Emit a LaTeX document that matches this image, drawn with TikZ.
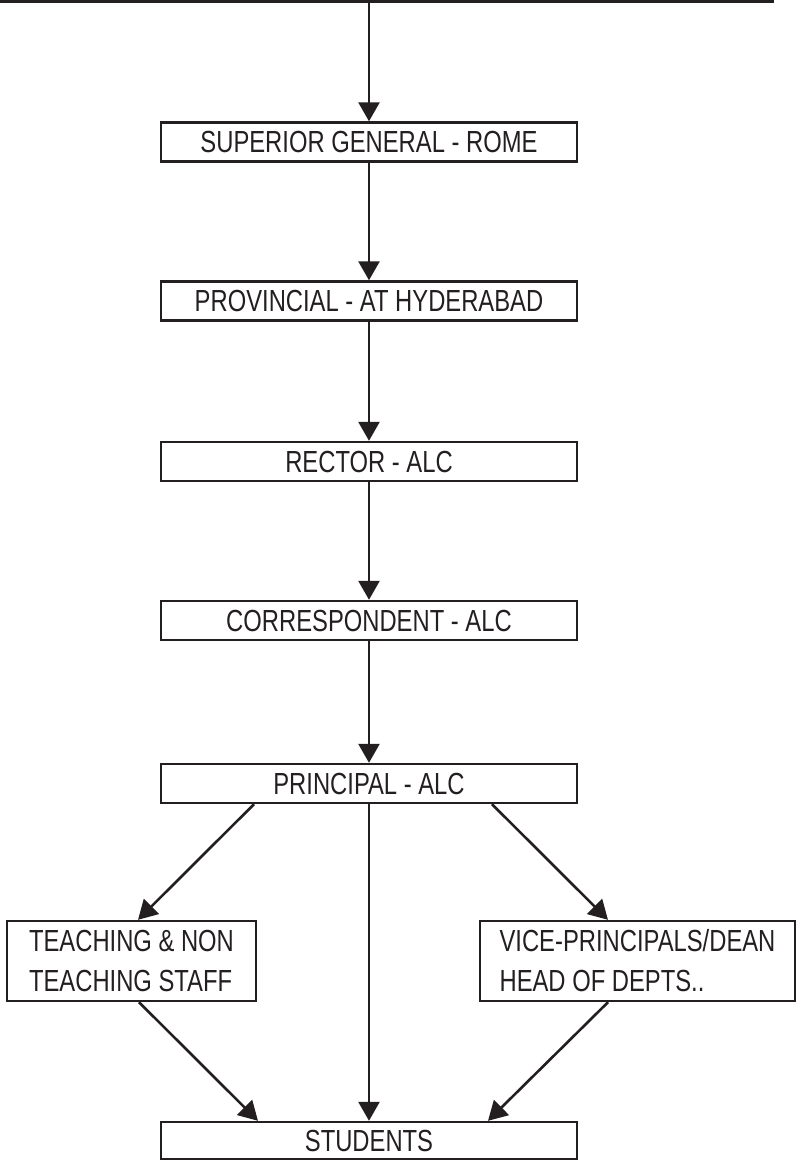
\documentclass[tikz,border=0pt]{standalone}
\usepackage{fontspec}
\setmainfont{Liberation Sans}[FakeStretch=0.78]
\usetikzlibrary{arrows.meta}
\definecolor{ink}{HTML}{231F20}

\begin{document}
\begin{tikzpicture}[x=1pt,y=1pt,yscale=-1,xscale=1,
  box/.style={draw=ink, line width=2.4pt, minimum width=416pt, minimum height=39pt, inner sep=0pt, text=ink, font=\fontsize{30.5}{40}\selectfont},
  sidebox/.style={box, minimum height=80pt, align=left},
  link/.style={draw=ink, line width=2.6pt, -{Triangle[width=21pt,length=19pt]}}]
\useasboundingbox (0,0) rectangle (797,1160);
\clip (0,0) rectangle (797,1160);

%Shape: box cut off at the top
\node [box, minimum width=800pt, minimum height=100pt] (top) at (373,-48.5) {};

% Text Node
\node [box] (sup) at (369,142) {SUPERIOR GENERAL - ROME};
% Text Node
\node [box] (prov) at (369,301) {PROVINCIAL - AT HYDERABAD};
% Text Node
\node [box] (rect) at (369,461.5) {RECTOR - ALC};
% Text Node
\node [box] (corr) at (369,620.5) {CORRESPONDENT - ALC};
% Text Node
\node [box] (prin) at (369,783.5) {PRINCIPAL - ALC};
% Text Node
\node [sidebox, minimum width=249pt] (staff) at (131.5,961) {TEACHING \& NON\\TEACHING STAFF};
% Text Node
\node [sidebox, minimum width=315pt] (heads) at (637.5,961) {VICE-PRINCIPALS/DEAN\\HEAD OF DEPTS..};
% Text Node
\node [box, minimum height=37pt] (stud) at (369,1140.5) {STUDENTS};

%Straight Lines
\draw [link] (sup.north |- top.south) -- (sup.north);
\draw [link] (sup) -- (prov);
\draw [link] (prov) -- (rect);
\draw [link] (rect) -- (corr);
\draw [link] (corr) -- (prin);
\draw [link] ([xshift=-115pt]prin.south) -- ([xshift=6.5pt]staff.north);
\draw [link] ([xshift=123pt]prin.south) -- ([xshift=-29.5pt]heads.north);
\draw [link] (prin) -- (stud);
\draw [link] ([xshift=7.5pt]staff.south) -- ([xshift=-111pt]stud.north);
\draw [link] ([xshift=-29.5pt]heads.south) -- ([xshift=119pt]stud.north);

\end{tikzpicture}
\end{document}
